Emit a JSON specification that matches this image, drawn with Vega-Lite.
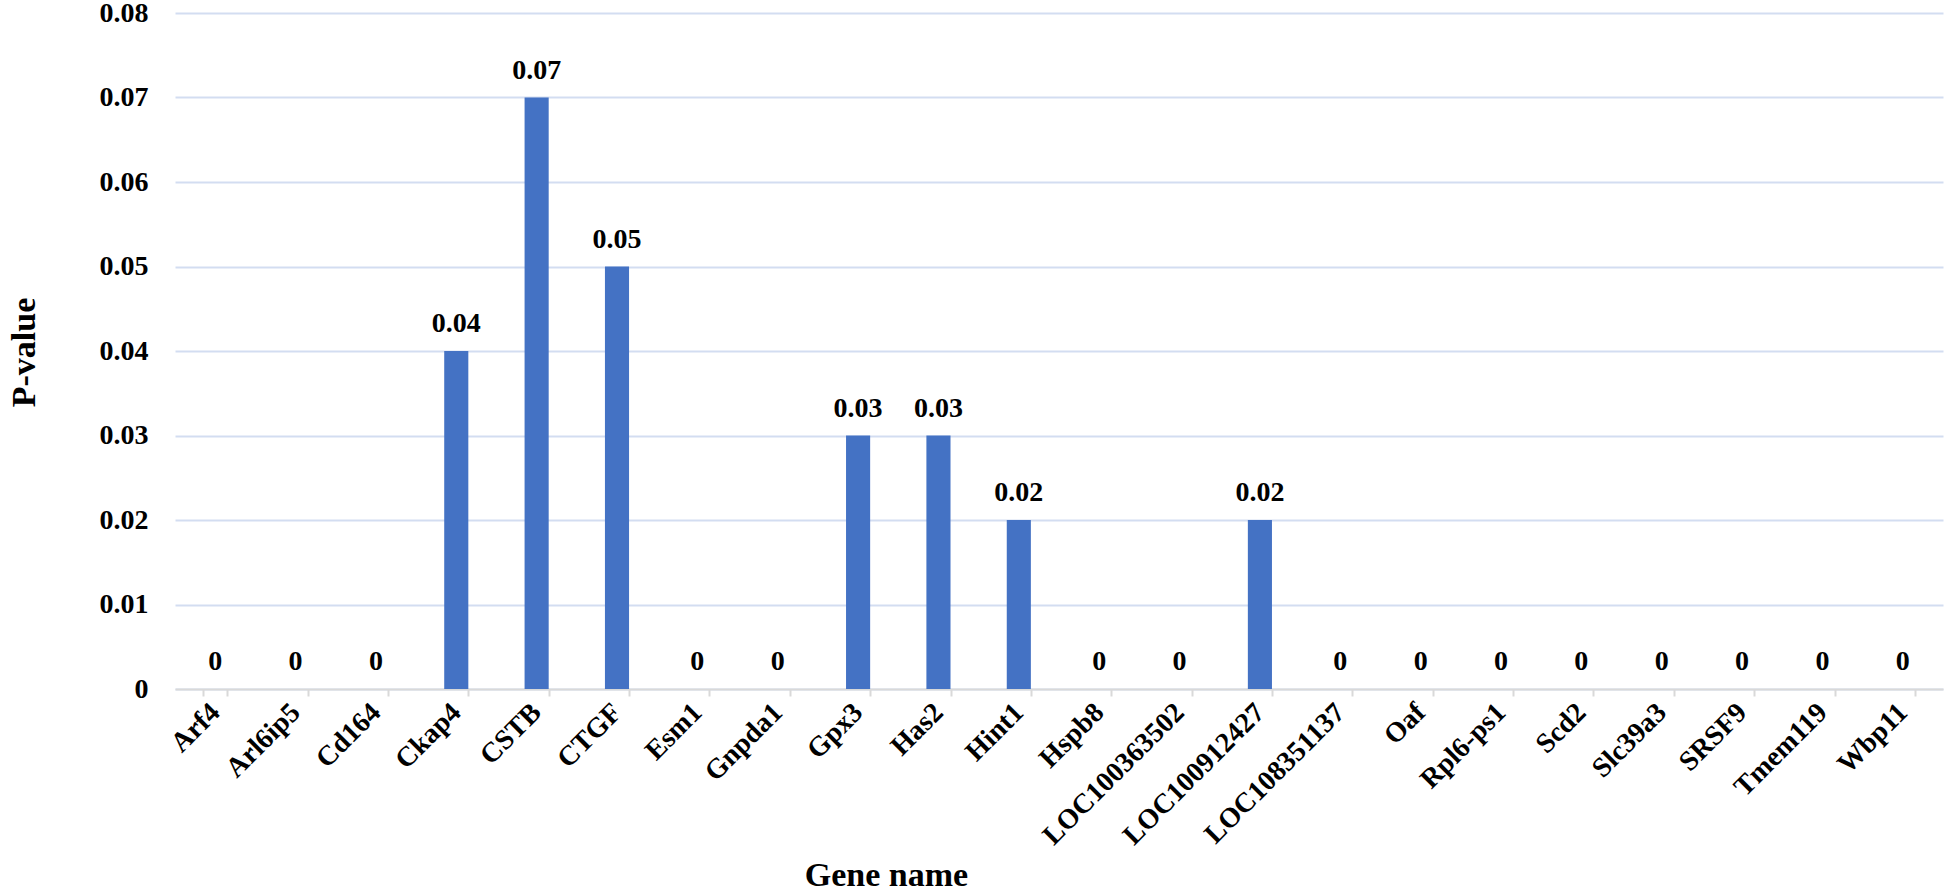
{
  "$schema": "https://vega.github.io/schema/vega-lite/v6.json",
  "width": 1768,
  "height": 676,
  "autosize": {"type": "none"},
  "padding": {"left": 175, "top": 13, "right": 3, "bottom": 202},
  "background": "white",
  "config": {
    "view": {"stroke": null},
    "font": "Liberation Serif"
  },
  "data": {
    "values": [
      {"gene": "Arf4", "p": 0},
      {"gene": "Arl6ip5", "p": 0},
      {"gene": "Cd164", "p": 0},
      {"gene": "Ckap4", "p": 0.04},
      {"gene": "CSTB", "p": 0.07},
      {"gene": "CTGF", "p": 0.05},
      {"gene": "Esm1", "p": 0},
      {"gene": "Gnpda1", "p": 0},
      {"gene": "Gpx3", "p": 0.03},
      {"gene": "Has2", "p": 0.03},
      {"gene": "Hint1", "p": 0.02},
      {"gene": "Hspb8", "p": 0},
      {"gene": "LOC100363502", "p": 0},
      {"gene": "LOC100912427", "p": 0.02},
      {"gene": "LOC108351137", "p": 0},
      {"gene": "Oaf", "p": 0},
      {"gene": "Rpl6-ps1", "p": 0},
      {"gene": "Scd2", "p": 0},
      {"gene": "Slc39a3", "p": 0},
      {"gene": "SRSF9", "p": 0},
      {"gene": "Tmem119", "p": 0},
      {"gene": "Wbp11", "p": 0}
    ]
  },
  "encoding": {
    "x": {
      "field": "gene",
      "type": "nominal",
      "sort": null,
      "scale": {"paddingInner": 0.7, "paddingOuter": 0.35},
      "axis": {
        "title": "Gene name",
        "titleFont": "Liberation Serif",
        "titleFontSize": 34,
        "titleFontWeight": "bold",
        "titleColor": "black",
        "titleX": 711,
        "titleY": 196,
        "titleBaseline": "alphabetic",
        "labelFont": "Liberation Serif",
        "labelFontSize": 28,
        "labelFontWeight": "bold",
        "labelColor": "black",
        "labelAngle": -45,
        "labelAlign": "right",
        "labelBaseline": "middle",
        "labelPadding": 12,
        "labelOverlap": false,
        "labelLimit": 0,
        "domainColor": "#d9d9d9",
        "domainWidth": 2,
        "tickColor": "#d9d9d9",
        "tickWidth": 2,
        "tickSize": 7,
        "tickBand": "extent",
        "grid": false
      }
    },
    "y": {
      "field": "p",
      "type": "quantitative",
      "scale": {"domain": [0, 0.08], "nice": false, "zero": true},
      "axis": {
        "title": "P-value",
        "titleFont": "Liberation Serif",
        "titleFontSize": 34,
        "titleFontWeight": "bold",
        "titleColor": "black",
        "titleX": -141,
        "titleY": 339,
        "titleBaseline": "alphabetic",
        "titleAlign": "center",
        "titleAngle": -90,
        "labelFont": "Liberation Serif",
        "labelFontSize": 28,
        "labelFontWeight": "bold",
        "labelColor": "black",
        "labelPadding": 27,
        "values": [0, 0.01, 0.02, 0.03, 0.04, 0.05, 0.06, 0.07, 0.08],
        "format": ".2~f",
        "domain": false,
        "ticks": false,
        "grid": true,
        "gridColor": "#d3ddf1",
        "gridWidth": 2
      }
    }
  },
  "layer": [
    {
      "mark": {"type": "bar", "color": "#4472c4"}
    },
    {
      "mark": {
        "type": "text",
        "font": "Liberation Serif",
        "fontSize": 28,
        "fontWeight": "bold",
        "color": "black",
        "baseline": "alphabetic",
        "dy": -19
      },
      "encoding": {
        "text": {"field": "p", "type": "quantitative", "format": ".2~f"}
      }
    }
  ]
}
